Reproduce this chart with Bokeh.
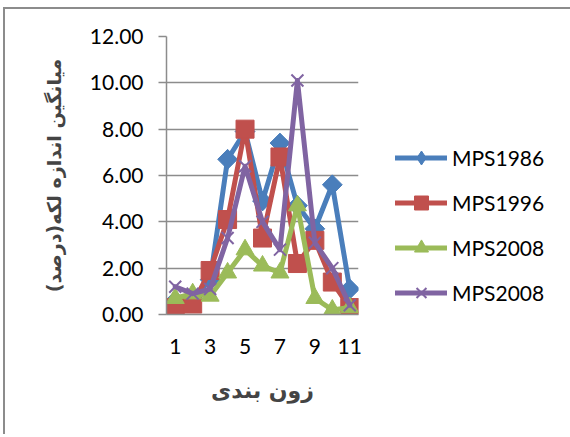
import math
from bokeh.plotting import figure
from bokeh.models import (FixedTicker, NumeralTickFormatter, Legend, LegendItem,
                          Range1d)
from bokeh.embed import file_html
from bokeh.resources import INLINE

zones = [1, 2, 3, 4, 5, 6, 7, 8, 9, 10, 11]
x_tick_labels = [1, 3, 5, 7, 9, 11]
y_ticks = [0, 2, 4, 6, 8, 10, 12]

mps1986 = [0.6, 0.7, 1.5, 6.7, 7.9, 4.9, 7.4, 4.7, 3.7, 5.6, 1.1]
mps1996 = [0.3, 0.45, 1.9, 4.1, 8.0, 3.3, 6.8, 2.2, 3.2, 1.4, 0.3]
mps2008a = [0.7, 0.9, 0.8, 1.8, 2.8, 2.1, 1.8, 4.7, 0.7, 0.2, 0.3]
mps2008b = [1.2, 0.9, 1.1, 3.3, 6.4, 4.0, 2.8, 10.1, 3.1, 2.0, 0.4]

series_names = ["MPS1986", "MPS1996", "MPS2008", "MPS2008"]
series_values = [mps1986, mps1996, mps2008a, mps2008b]
colors = ["#4A7EBB", "#C0504D", "#9BBB59", "#8064A2"]
markers = ["square", "square", "triangle", "x"]
legend_markers = ["diamond", "square", "triangle", "x"]
marker_angles = [math.pi / 4, 0, 0, 0]
marker_sizes = [14, 18, 18, 17]

y_title = "میانگین اندازه لکه(درصد)"
x_title = "زون بندی"

FONT = "Lato"
GRAY = "#8C8C8C"

p = figure(frame_width=192, frame_height=278, output_backend="svg",
           toolbar_location=None,
           x_range=Range1d(0.5, 11.5), y_range=Range1d(0, 12),
           min_border_left=161, min_border_right=207,
           min_border_top=27, min_border_bottom=120)
p.styles = {"border-top": "2px solid #8C8C8C", "border-left": "2px solid #8C8C8C",
            "margin-top": "7px", "margin-left": "3px"}
p.outline_line_color = None
p.background_fill_color = "white"
p.border_fill_color = "white"

# axes
p.xaxis.ticker = FixedTicker(ticks=x_tick_labels)
p.xaxis.major_tick_line_color = None
p.xaxis.minor_tick_line_color = None
p.xaxis.axis_line_color = GRAY
p.xaxis.axis_line_width = 1.5
p.xaxis.major_label_text_font = FONT
p.xaxis.major_label_text_font_size = "21px"
p.xaxis.major_label_text_color = "black"
p.xaxis.major_label_standoff = 18
p.xaxis.axis_label = x_title
p.xaxis.axis_label_text_font = "DejaVu Sans"
p.xaxis.axis_label_text_font_style = "bold"
p.xaxis.axis_label_text_font_size = "22px"
p.xaxis.axis_label_standoff = 21

p.yaxis.ticker = FixedTicker(ticks=y_ticks)
p.yaxis.formatter = NumeralTickFormatter(format="0.00")
p.yaxis.major_tick_line_color = GRAY
p.yaxis.major_tick_line_width = 1.5
p.yaxis.major_tick_out = 8
p.yaxis.major_tick_in = 0
p.yaxis.minor_tick_line_color = None
p.yaxis.axis_line_color = GRAY
p.yaxis.axis_line_width = 1.5
p.yaxis.major_label_text_font = FONT
p.yaxis.major_label_text_font_size = "21px"
p.yaxis.major_label_text_color = "black"
p.yaxis.major_label_standoff = 15
p.yaxis.axis_label = y_title
p.yaxis.axis_label_text_font = "DejaVu Sans"
p.yaxis.axis_label_text_font_style = "bold"
p.yaxis.axis_label_text_font_size = "19px"
p.yaxis.axis_label_standoff = 22

p.xgrid.grid_line_color = None
p.ygrid.ticker = FixedTicker(ticks=y_ticks)
p.ygrid.grid_line_color = GRAY
p.ygrid.grid_line_width = 1.5

items = []
for name, vals, col, mk, lmk, ang, ms in zip(series_names, series_values, colors,
                                              markers, legend_markers,
                                              marker_angles, marker_sizes):
    lr = p.line(zones, vals, line_color=col, line_width=5, line_join="round",
                line_cap="round")
    key_r = None
    if lmk != mk:
        # inner diamond (covered by the rotated square) used as the legend key
        key_r = p.scatter(zones, vals, marker=lmk, size=ms * 1.35,
                          fill_color=col, line_color=col)
    if mk == "x":
        sr = p.scatter(zones, vals, marker=mk, size=ms, line_color=col, line_width=2)
    else:
        sr = p.scatter(zones, vals, marker=mk, size=ms, angle=ang,
                       fill_color=col, line_color=col)
    rens = [lr, key_r if key_r is not None else sr]
    items.append(LegendItem(label=name, renderers=rens))

legend = Legend(items=items, location=(37, 4), orientation="vertical",
                glyph_width=52, glyph_height=35, label_height=35, spacing=10,
                padding=0, margin=0, label_standoff=5,
                label_text_font=FONT, label_text_font_size="21px",
                label_text_color="black",
                border_line_color=None, background_fill_alpha=0)
p.add_layout(legend, "right")

open("out.html", "w").write(file_html(p, INLINE))
